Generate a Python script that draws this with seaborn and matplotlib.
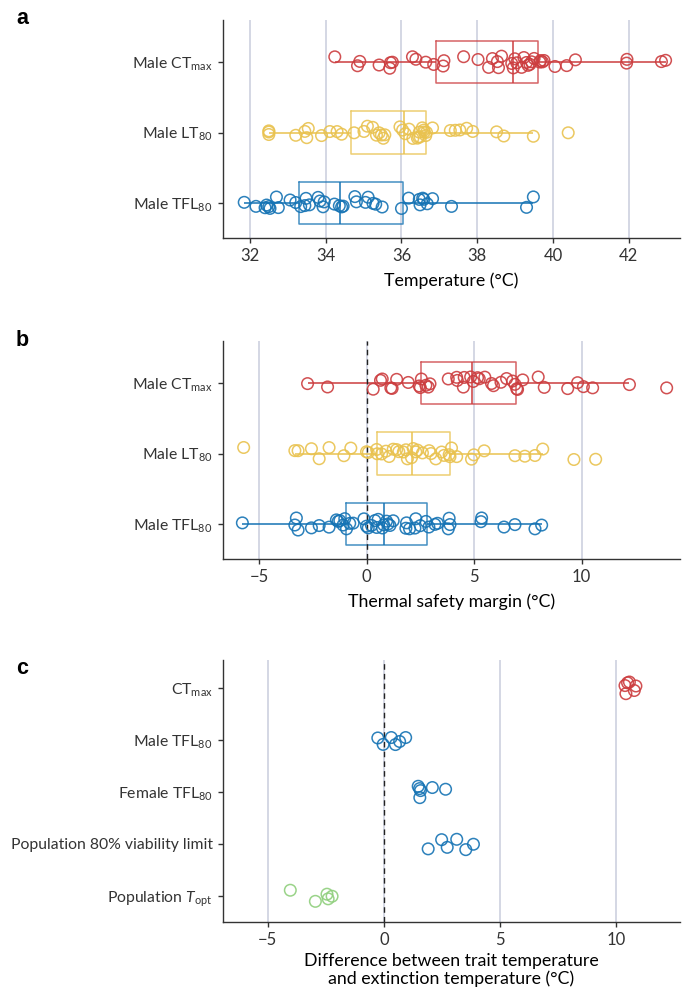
import numpy as np
import pandas as pd
import matplotlib
matplotlib.use('Agg')
import matplotlib.pyplot as plt
import seaborn as sns

# ---- panel a: trait temperatures (°C)
ctmaxTemp = [34.24, 34.84, 34.90, 35.41, 35.69, 35.71, 35.76, 36.29, 36.38, 36.64, 36.85, 37.10, 37.12, 37.64,
             38.02, 38.30, 38.40, 38.53, 38.56, 38.64, 38.91, 38.95, 38.99, 39.04, 39.17, 39.23, 39.30, 39.34,
             39.39, 39.43, 39.50, 39.65, 39.67, 39.72, 39.76, 40.05, 40.36, 40.59, 41.94, 41.95, 42.86, 42.97]
lt80Temp = [32.50, 32.50, 32.50, 33.21, 33.45, 33.50, 33.54, 33.89, 34.11, 34.30, 34.42, 34.75, 35.01, 35.10,
            35.24, 35.34, 35.41, 35.47, 35.52, 35.56, 35.96, 36.03, 36.10, 36.20, 36.30, 36.42, 36.45, 36.47,
            36.49, 36.55, 36.59, 36.60, 36.64, 36.66, 36.82, 37.29, 37.42, 37.54, 37.72, 37.88, 38.51, 38.70,
            39.48, 40.40]
tfl80Temp = [31.85, 32.16, 32.40, 32.44, 32.50, 32.53, 32.70, 32.75, 33.06, 33.21, 33.34, 33.45, 33.48, 33.57,
             33.80, 33.85, 33.93, 33.96, 34.23, 34.36, 34.42, 34.46, 34.77, 34.81, 35.05, 35.12, 35.25, 35.32,
             35.49, 36.00, 36.19, 36.47, 36.49, 36.56, 36.59, 36.68, 36.82, 37.32, 39.30, 39.48]

# ---- panel b: thermal safety margins (°C)
ctmaxTsm = [-2.74, -1.81, 0.31, 0.65, 0.73, 1.13, 1.19, 1.40, 1.94, 2.45, 2.50, 2.55, 2.76, 2.87, 2.95, 3.80,
            4.19, 4.22, 4.50, 4.54, 4.84, 4.96, 5.16, 5.24, 5.50, 5.81, 5.90, 6.25, 6.51, 6.79, 6.90, 6.98,
            7.02, 7.26, 7.98, 8.26, 9.35, 9.81, 10.08, 10.51, 12.22, 13.95]
lt80Tsm = [-5.71, -3.33, -3.18, -2.56, -2.20, -1.74, -1.05, -0.73, 0.00, 0.08, 0.47, 0.50, 0.70, 0.90, 1.05,
           1.24, 1.40, 1.50, 1.71, 1.83, 1.90, 2.09, 2.17, 2.29, 2.37, 2.60, 2.91, 3.00, 3.22, 3.49, 3.60,
           3.84, 3.88, 3.95, 4.19, 4.88, 4.99, 5.47, 6.90, 7.36, 7.83, 8.19, 9.64, 10.65]
tfl80Tsm = [-5.77, -3.33, -3.26, -3.18, -2.56, -2.20, -1.74, -1.40, -1.32, -1.24, -1.09, -1.01, -0.93, -0.78,
            -0.62, -0.12, 0.00, 0.08, 0.23, 0.39, 0.47, 0.54, 0.74, 0.80, 0.93, 1.00, 1.09, 1.24, 1.83, 1.86,
            2.00, 2.25, 2.29, 2.50, 2.76, 2.90, 3.18, 3.30, 3.80, 3.84, 3.88, 5.32, 5.35, 6.39, 6.90, 7.83, 8.14]

# ---- panel c: trait temperature minus extinction temperature (°C)
ctmaxDiff = [10.39, 10.43, 10.50, 10.58, 10.79, 10.86]
maleTflDiff = [-0.26, -0.03, 0.32, 0.50, 0.68, 0.94]
femaleTflDiff = [1.48, 1.54, 1.55, 1.58, 2.09, 2.66]
popViabDiff = [1.91, 2.49, 2.73, 3.14, 3.53, 3.86]
popToptDiff = [-4.03, -2.95, -2.45, -2.40, -2.23]

maleTraits = ['Male CTmax', 'Male LT80', 'Male TFL80']
maleLabels = ['Male CT$_\\mathregular{max}$', 'Male LT$_\\mathregular{80}$', 'Male TFL$_\\mathregular{80}$']
extTraits = ['CTmax', 'Male TFL80', 'Female TFL80', 'Population 80% viability limit', 'Population Topt']
extLabels = ['CT$_\\mathregular{max}$', 'Male TFL$_\\mathregular{80}$', 'Female TFL$_\\mathregular{80}$',
             'Population 80% viability limit', 'Population $\\it{T}$$_\\mathregular{opt}$']

red, yellow, blue, green = '#cc3d3f', '#e9c24f', '#1573b4', '#8fcf7c'
malePal = dict(zip(maleTraits, [red, yellow, blue]))
extPal = dict(zip(extTraits, [red, blue, blue, blue, green]))

gridColor = '#c9cddd'
textColor = '#333333'


def toLong(traits, series):
    parts = [pd.DataFrame({'trait': t, 'value': v}) for t, v in zip(traits, series)]
    return pd.concat(parts, ignore_index=True)


def hollow(ax, nBefore, alpha=0.9):
    # stripplot fills the markers; turn them into open circles
    for coll in ax.collections[nBefore:]:
        fc = np.array(coll.get_facecolors())
        if len(fc) == 0:
            continue
        fc[:, 3] = alpha
        coll.set_edgecolors(fc)
        coll.set_facecolors('none')


def styleAx(ax, labels, xticks, xlim, ylim, xlabel, labelpad=6):
    ax.set_yticks(range(len(labels)))
    ax.set_yticklabels(labels, fontsize=11.3, color=textColor)
    ax.set_xticks(xticks)
    ax.set_xlim(*xlim)
    ax.set_ylim(*ylim)
    ax.set_ylabel('')
    ax.set_xlabel(xlabel, fontsize=12.8, color='black', labelpad=labelpad, linespacing=1.1)
    ax.tick_params(axis='both', length=3.5, width=1, color=textColor, pad=4)
    ax.tick_params(axis='x', labelsize=12, labelcolor=textColor)
    ax.grid(axis='x', color=gridColor, lw=1.1)
    ax.grid(axis='y', visible=False)
    ax.set_axisbelow(True)
    for side in ['top', 'right']:
        ax.spines[side].set_visible(False)
    for side in ['left', 'bottom']:
        ax.spines[side].set_color(textColor)
        ax.spines[side].set_linewidth(1)


def boxStrip(ax, df, order, pal, jitter, withBox=True):
    if withBox:
        sns.boxplot(ax=ax, data=df, x='value', y='trait', hue='trait', order=order, hue_order=order,
                    palette=pal, fill=False, width=0.6, linewidth=1.1, showcaps=False, showfliers=False,
                    whis=1.5, legend=False, boxprops=dict(alpha=0.8))
    n = len(ax.collections)
    sns.stripplot(ax=ax, data=df, x='value', y='trait', hue='trait', order=order, hue_order=order,
                  palette=pal, jitter=jitter, size=8.3, linewidth=1.1, legend=False, zorder=3)
    hollow(ax, n)


if __name__ == '__main__':
    np.random.seed(7)
    sns.set_style('ticks')
    plt.rcParams['font.family'] = ['Lato', 'DejaVu Sans']
    plt.rcParams['mathtext.fontset'] = 'custom'
    plt.rcParams['mathtext.rm'] = 'Lato'
    plt.rcParams['mathtext.it'] = 'Lato:italic'

    W, H = 686, 990
    fig = plt.figure(figsize=(W / 100, H / 100), dpi=100)

    def axBox(left, top, right, bottom):
        return fig.add_axes([left / W, 1 - bottom / H, (right - left) / W, (bottom - top) / H])

    # a
    axA = axBox(223, 20, 680, 238)
    dfA = toLong(maleTraits, [ctmaxTemp, lt80Temp, tfl80Temp])
    boxStrip(axA, dfA, maleTraits, malePal, 0.09)
    styleAx(axA, maleLabels, range(32, 43, 2), (31.29, 43.35), (2.5, -0.6), 'Temperature (°C)')

    # b
    axB = axBox(223, 341, 680, 559)
    dfB = toLong(maleTraits, [ctmaxTsm, lt80Tsm, tfl80Tsm])
    boxStrip(axB, dfB, maleTraits, malePal, 0.09)
    axB.axvline(0, color='#222222', lw=1, ls=(0, (4, 3)), zorder=2)
    styleAx(axB, maleLabels, [-5, 0, 5, 10], (-6.67, 14.57), (2.5, -0.6), 'Thermal safety margin (°C)')

    # c
    axC = axBox(223, 660, 680, 922)
    dfC = toLong(extTraits, [ctmaxDiff, maleTflDiff, femaleTflDiff, popViabDiff, popToptDiff])
    boxStrip(axC, dfC, extTraits, extPal, 0.12, withBox=False)
    axC.axvline(0, color='#222222', lw=1, ls=(0, (4, 3)), zorder=2)
    styleAx(axC, extLabels, [-5, 0, 5, 10], (-6.93, 12.76), (4.5, -0.53),
            'Difference between trait temperature\nand extinction temperature (°C)', labelpad=3)

    for letter, y in [('a', 18), ('b', 341), ('c', 668)]:
        fig.text(16 / W, 1 - y / H, letter, fontsize=15.5, fontweight='bold', va='center', ha='left',
                 color='black', family=['Liberation Sans', 'DejaVu Sans'])

    fig.savefig('out.png', dpi=100)
    plt.close()
